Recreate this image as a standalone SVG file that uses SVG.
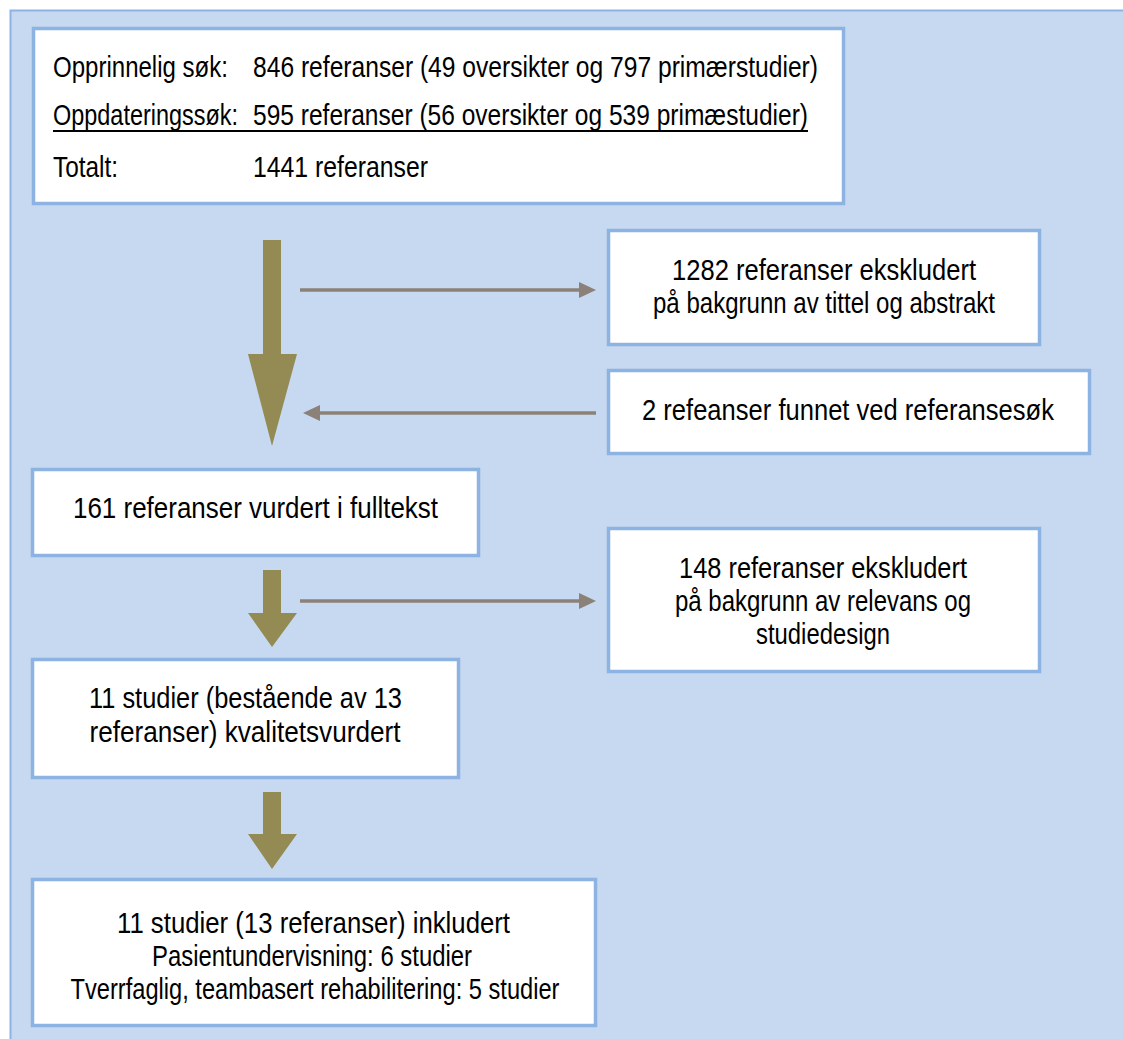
<svg xmlns="http://www.w3.org/2000/svg" width="1123" height="1039" viewBox="0 0 1123 1039">
<style>
.box{fill:#ffffff;stroke:#8db3e2;stroke-width:3.5}
.t{font-family:"Liberation Sans Narrow","Liberation Sans",Arial,sans-serif;font-size:30px;fill:#000}
.m{text-anchor:middle}
.big{fill:#948a54}
.thin{stroke:#8b8178;stroke-width:3.5;fill:none}
.head{fill:#8b8178}
</style>
<rect x="0" y="0" width="1123" height="1039" fill="#ffffff"/>
<rect id="panel" x="10.5" y="10.5" width="1125" height="1040" fill="#c6d9f0" stroke="#8db3e2" stroke-width="2"/>

<g id="connectors">
  <polygon class="big" points="263,240 281,240 281,354 297,354 272,446 248,354 263,354"/>
  <polygon class="big" points="263,570 281,570 281,613 297,613 272,647 248,613 263,613"/>
  <polygon class="big" points="263,792 281,792 281,834 297,834 272,869 248,834 263,834"/>
  <line class="thin" x1="300" y1="290" x2="581" y2="290"/>
  <polygon class="head" points="579,282 596,290 579,298"/>
  <line class="thin" x1="596" y1="413" x2="318" y2="413"/>
  <polygon class="head" points="320,405 303,413 320,421"/>
  <line class="thin" x1="300" y1="601" x2="581" y2="601"/>
  <polygon class="head" points="579,593 596,601 579,609"/>
</g>

<g id="search">
  <rect class="box" x="33.5" y="28.5" width="810" height="175"/>
  <text class="t" x="53" y="77" textLength="175" lengthAdjust="spacingAndGlyphs">Opprinnelig søk:</text>
  <text class="t" x="253" y="77" textLength="565" lengthAdjust="spacingAndGlyphs">846 referanser (49 oversikter og 797 primærstudier)</text>
  <text class="t" x="53" y="125" textLength="185" lengthAdjust="spacingAndGlyphs">Oppdateringssøk:</text>
  <text class="t" x="253" y="125" textLength="555" lengthAdjust="spacingAndGlyphs">595 referanser (56 oversikter og 539 primæstudier)</text>
  <line x1="53" y1="131" x2="808" y2="131" stroke="#000" stroke-width="2"/>
  <text class="t" x="53" y="177" textLength="65" lengthAdjust="spacingAndGlyphs">Totalt:</text>
  <text class="t" x="253" y="177" textLength="175" lengthAdjust="spacingAndGlyphs">1441 referanser</text>
</g>

<g id="excluded1">
  <rect class="box" x="608.5" y="230.5" width="431" height="114"/>
  <text class="t m" x="824" y="280" textLength="304" lengthAdjust="spacingAndGlyphs">1282 referanser ekskludert</text>
  <text class="t m" x="824" y="313" textLength="342" lengthAdjust="spacingAndGlyphs">på bakgrunn av tittel og abstrakt</text>
</g>

<g id="found">
  <rect class="box" x="608.5" y="370.5" width="481" height="83"/>
  <text class="t m" x="848" y="420" textLength="412" lengthAdjust="spacingAndGlyphs">2 refeanser funnet ved referansesøk</text>
</g>

<g id="fulltext">
  <rect class="box" x="32.5" y="469.5" width="446" height="86"/>
  <text class="t m" x="255.5" y="518" textLength="365" lengthAdjust="spacingAndGlyphs">161 referanser vurdert i fulltekst</text>
</g>

<g id="excluded2">
  <rect class="box" x="608.5" y="528.5" width="431" height="143"/>
  <text class="t m" x="823" y="578" textLength="288" lengthAdjust="spacingAndGlyphs">148 referanser ekskludert</text>
  <text class="t m" x="823" y="611" textLength="296" lengthAdjust="spacingAndGlyphs">på bakgrunn av relevans og</text>
  <text class="t m" x="823" y="644" textLength="134" lengthAdjust="spacingAndGlyphs">studiedesign</text>
</g>

<g id="quality">
  <rect class="box" x="32.5" y="659.5" width="426" height="118"/>
  <text class="t m" x="245.5" y="708" textLength="313" lengthAdjust="spacingAndGlyphs">11 studier (bestående av 13</text>
  <text class="t m" x="245" y="742" textLength="311" lengthAdjust="spacingAndGlyphs">referanser) kvalitetsvurdert</text>
</g>

<g id="included">
  <rect class="box" x="32.5" y="879.5" width="563" height="146"/>
  <text class="t m" x="313.5" y="933" textLength="393" lengthAdjust="spacingAndGlyphs">11 studier (13 referanser) inkludert</text>
  <text class="t m" x="312" y="966" textLength="320" lengthAdjust="spacingAndGlyphs">Pasientundervisning: 6 studier</text>
  <text class="t m" x="315" y="999" textLength="489" lengthAdjust="spacingAndGlyphs">Tverrfaglig, teambasert rehabilitering: 5 studier</text>
</g>
</svg>
